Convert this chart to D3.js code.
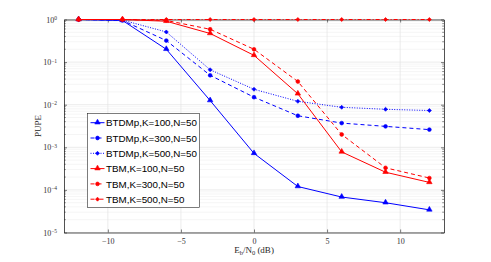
<!DOCTYPE html>
<html lang="en">
<head>
	<meta charset="utf-8">
	<script src="https://d3js.org/d3.v7.min.js"></script>
	<style type="text/css">
		body { margin: 0; background: white; }
		.tick text { font-family: "Liberation Serif", "DejaVu Serif", serif; }
	</style>
	<title>PUPE</title>
</head>
<body>
	<script type="text/javascript">
		//Data
		var snr = [-12, -9, -6, -3, 0, 3, 6, 9, 12];
		var btdm100 = [1, 0.95, 0.2, 0.0125, 7.2e-4, 1.2e-4, 6.8e-5, 5e-5, 3.4e-5];
		var btdm300 = [1, 0.95, 0.32, 0.049, 0.015, 0.0055, 0.0037, 0.0031, 0.0026];
		var btdm500 = [1, 0.97, 0.51, 0.066, 0.023, 0.012, 0.0087, 0.0078, 0.0073];
		var tbm100 = [1, 1, 0.91, 0.47, 0.144, 0.018, 7.8e-4, 2.6e-4, 1.5e-4];
		var tbm300 = [1, 1, 0.95, 0.59, 0.2, 0.035, 0.002, 3.3e-4, 1.9e-4];
		var tbm500 = [1, 1, 1, 1, 1, 1, 1, 1, 1];
		var names = ["BTDMp,K=100,N=50", "BTDMp,K=300,N=50", "BTDMp,K=500,N=50",
			"TBM,K=100,N=50", "TBM,K=300,N=50", "TBM,K=500,N=50"];
		var xTicks = [-10, -5, 0, 5, 10];
		var yTicks = [1e-5, 1e-4, 1e-3, 1e-2, 1e-1, 1];

		var series = [
			{name: names[0], v: btdm100, color: "#0000ff", dash: null, mark: "tri"},
			{name: names[1], v: btdm300, color: "#0000ff", dash: "4,3", mark: "circ"},
			{name: names[2], v: btdm500, color: "#0000ff", dash: "1,1.5", mark: "dia"},
			{name: names[3], v: tbm100, color: "#ff0000", dash: null, mark: "tri"},
			{name: names[4], v: tbm300, color: "#ff0000", dash: "4,3", mark: "circ"},
			{name: names[5], v: tbm500, color: "#ff0000", dash: "4,2,1,2", mark: "dia"}
		];

		var w = 491, h = 262;
		var m = {left: 64, right: 47, top: 19.5, bottom: 29.5};

		var svg = d3.select("body").append("svg")
			.attr("width", w)
			.attr("height", h);

		var x = d3.scaleLinear().domain([-13, 13]).range([m.left, w - m.right]);
		var y = d3.scaleLog().domain([1e-5, 1]).range([h - m.bottom, m.top]);

		var minor = [];
		for (var e = -5; e < 0; e++) {
			for (var k = 2; k < 10; k++) minor.push(k * Math.pow(10, e));
		}

		//grid
		var grid = svg.append("g");
		grid.selectAll(".ym").data(minor).enter().append("line")
			.attr("x1", m.left).attr("x2", w - m.right)
			.attr("y1", function(d) { return y(d); }).attr("y2", function(d) { return y(d); })
			.style("stroke", "#f0f0f0").style("stroke-width", 0.7);
		grid.selectAll(".yM").data(yTicks).enter().append("line")
			.attr("x1", m.left).attr("x2", w - m.right)
			.attr("y1", function(d) { return y(d); }).attr("y2", function(d) { return y(d); })
			.style("stroke", "#e3e3e3").style("stroke-width", 0.7);
		grid.selectAll(".xM").data(xTicks).enter().append("line")
			.attr("y1", m.top).attr("y2", h - m.bottom)
			.attr("x1", function(d) { return x(d); }).attr("x2", function(d) { return x(d); })
			.style("stroke", "#e3e3e3").style("stroke-width", 0.7);

		//axes (MATLAB style, ticks inside)
		function axisStyle(g) {
			g.select(".domain").style("stroke", "#262626").style("stroke-width", 0.8);
			g.selectAll(".tick line").style("stroke", "#262626").style("stroke-width", 0.6);
			g.selectAll(".tick text").style("fill", "#333").style("font-size", "8px");
		}
		svg.append("g").attr("transform", "translate(0," + (h - m.bottom) + ")")
			.call(d3.axisBottom(x).tickValues(xTicks).tickSizeInner(-3).tickSizeOuter(0).tickPadding(6))
			.call(axisStyle);
		svg.append("g").attr("transform", "translate(0," + m.top + ")")
			.call(d3.axisTop(x).tickValues(xTicks).tickSizeInner(-3).tickSizeOuter(0).tickFormat(""))
			.call(axisStyle);
		var yl = svg.append("g").attr("transform", "translate(" + m.left + ",0)")
			.call(d3.axisLeft(y).tickValues(yTicks).tickSizeInner(-3).tickSizeOuter(0).tickPadding(7).tickFormat(""))
			.call(axisStyle);
		yl.selectAll(".tick").each(function(d) {
			var t = d3.select(this).append("text")
				.attr("x", -7).attr("dy", "0.32em")
				.attr("text-anchor", "end")
				.style("fill", "#333").style("font-size", "8px");
			var ex = Math.round(Math.log10(d));
			t.append("tspan").text("10");
			t.append("tspan").attr("dy", "-0.45em").style("font-size", "5.5px")
				.text(ex < 0 ? "\u2212" + (-ex) : ex);
		});
		svg.append("g").attr("transform", "translate(" + (w - m.right) + ",0)")
			.call(d3.axisRight(y).tickValues(yTicks).tickSizeInner(-3).tickSizeOuter(0).tickFormat(""))
			.call(axisStyle);
		//minor ticks on both y sides
		[m.left, w - m.right].forEach(function(px, i) {
			svg.append("g").selectAll("line").data(minor).enter().append("line")
				.attr("x1", px).attr("x2", i == 0 ? px + 1.8 : px - 1.8)
				.attr("y1", function(d) { return y(d); }).attr("y2", function(d) { return y(d); })
				.style("stroke", "#262626").style("stroke-width", 0.5);
		});

		//axis labels
		svg.append("text")
			.attr("transform", "translate(41," + ((m.top + h - m.bottom) / 2) + ") rotate(-90)")
			.attr("text-anchor", "middle")
			.style("font-family", "Liberation Serif, serif").style("font-size", "9px").style("fill", "#262626")
			.text("PUPE");
		var xl = svg.append("text")
			.attr("x", x(0)).attr("y", 253)
			.attr("text-anchor", "middle")
			.style("font-family", "Liberation Serif, serif").style("font-size", "9px").style("fill", "#262626");
		xl.append("tspan").text("E");
		xl.append("tspan").attr("dy", 2).style("font-size", "6.5px").text("b");
		xl.append("tspan").attr("dy", -2).text("/N");
		xl.append("tspan").attr("dy", 2).style("font-size", "6.5px").text("0");
		xl.append("tspan").attr("dy", -2).text(" (dB)");

		//markers
		function marker(g, type, color, cx, cy) {
			if (type == "tri") {
				g.append("path").attr("d", d3.symbol().type(d3.symbolTriangle).size(13)())
					.attr("transform", "translate(" + cx + "," + (cy - 0.3) + ")")
					.style("fill", color).style("stroke", color).style("stroke-width", 0.6);
			} else if (type == "circ") {
				g.append("circle").attr("cx", cx).attr("cy", cy).attr("r", 1.9)
					.style("fill", color).style("stroke", color).style("stroke-width", 0.6);
			} else {
				g.append("path").attr("d", d3.symbol().type(d3.symbolSquare).size(8)())
					.attr("transform", "translate(" + cx + "," + cy + ") rotate(45)")
					.style("fill", color).style("stroke", color).style("stroke-width", 0.6);
			}
		}

		var line = d3.line()
			.x(function(d, i) { return x(snr[i]); })
			.y(function(d) { return y(d); });

		series.forEach(function(s) {
			var g = svg.append("g");
			g.append("path").datum(s.v).attr("d", line)
				.style("fill", "none").style("stroke", s.color).style("stroke-width", 1)
				.style("stroke-dasharray", s.dash);
			s.v.forEach(function(d, i) { marker(g, s.mark, s.color, x(snr[i]), y(d)); });
		});

		//legend
		var lg = svg.append("g");
		lg.append("rect").attr("x", 87.5).attr("y", 113.5).attr("width", 112).attr("height", 94)
			.style("fill", "white").style("stroke", "#262626").style("stroke-width", 0.6);
		series.forEach(function(s, i) {
			var ly = 122.7 + i * 15.3;
			lg.append("line").attr("x1", 90.5).attr("x2", 104.5).attr("y1", ly).attr("y2", ly)
				.style("stroke", s.color).style("stroke-width", 1).style("stroke-dasharray", s.dash);
			marker(lg, s.mark, s.color, 97.5, ly);
			lg.append("text").attr("x", 106).attr("y", ly + 3.6)
				.style("font-family", "Liberation Sans, Arial, sans-serif").style("font-size", "9.8px")
				.style("fill", "#000").text(s.name);
		});
	</script>
</body>
</html>
